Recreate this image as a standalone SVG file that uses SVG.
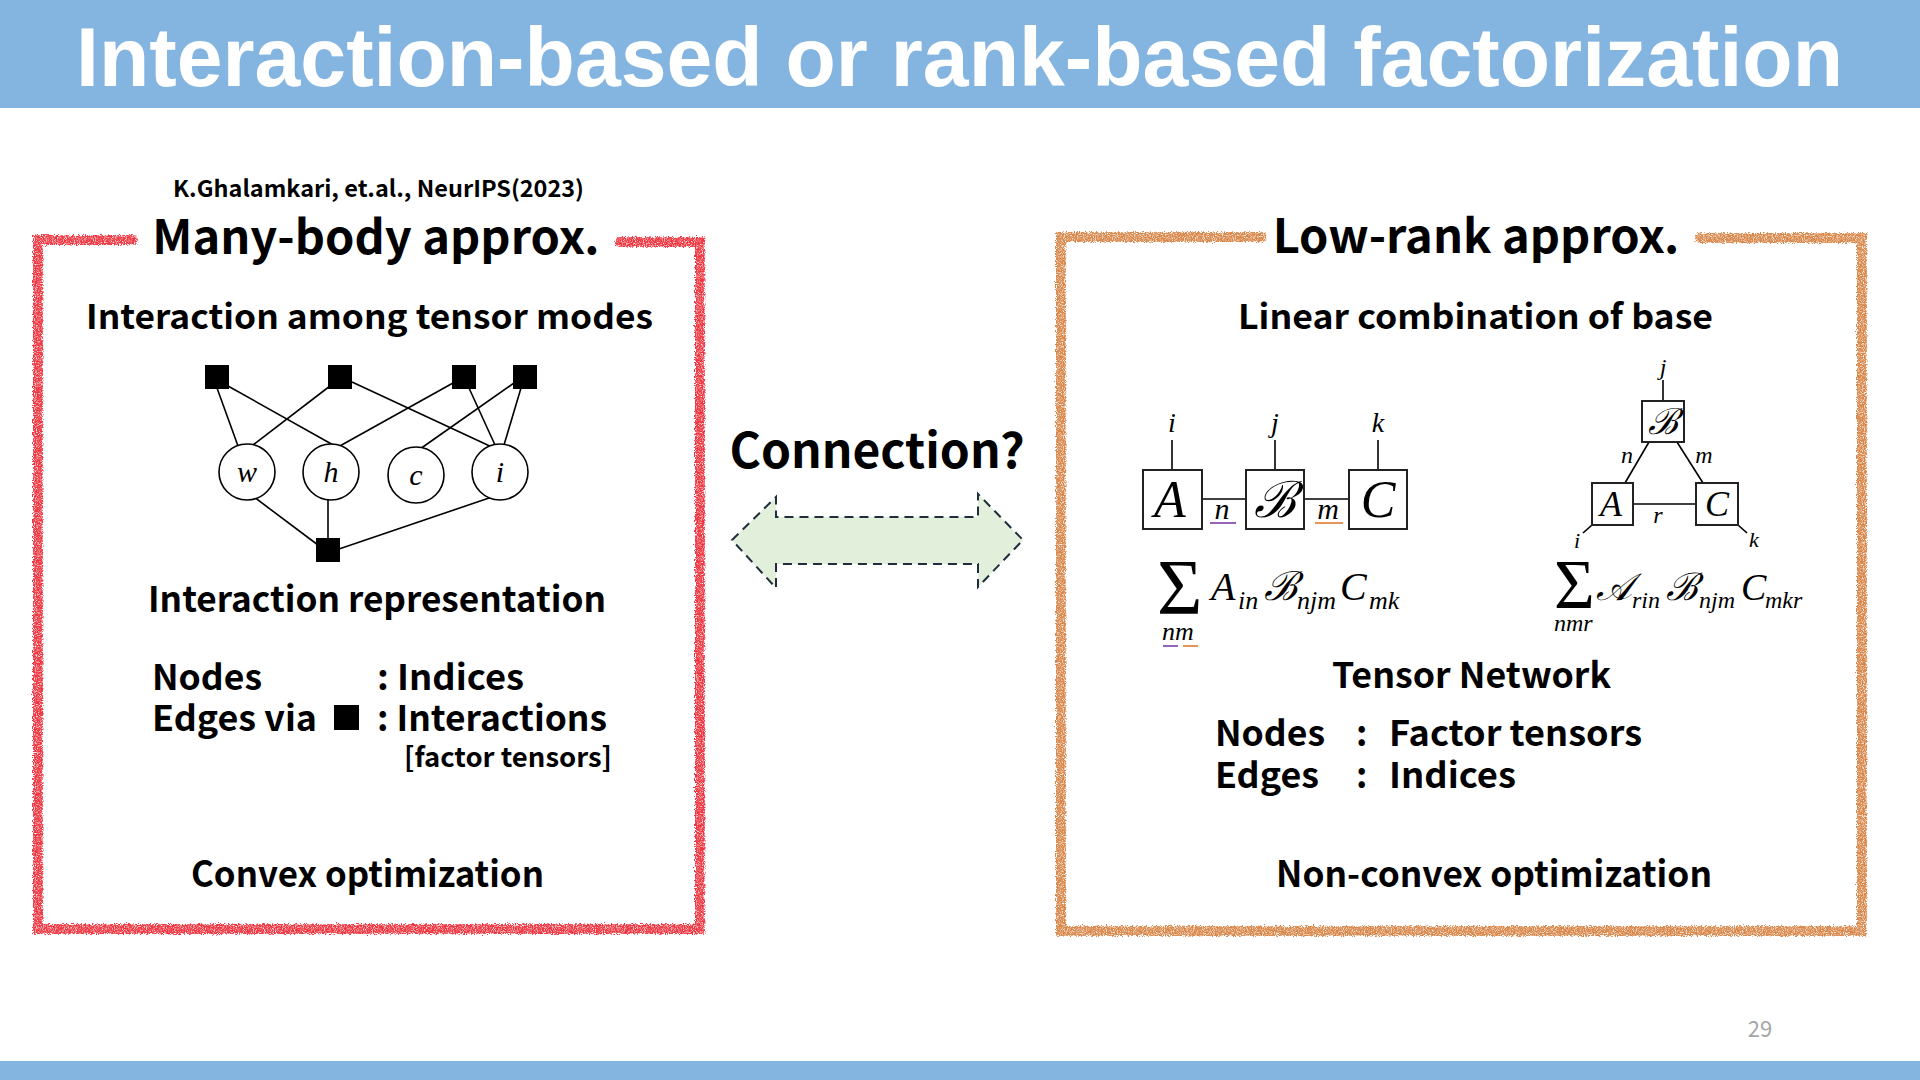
<svg xmlns="http://www.w3.org/2000/svg" width="1920" height="1080" viewBox="0 0 1920 1080">
<style>
.jp{font-family:"Noto Sans CJK JP","Noto Sans",sans-serif;fill:#000}
.h{font-weight:700}
.b{font-weight:700}
.m{font-family:"Liberation Serif","DejaVu Serif",serif;font-style:italic;fill:#000}
.ln{stroke:#000;stroke-width:1.6;fill:none}
.tb{fill:#fff;stroke:#222;stroke-width:2}
.fsq{fill:#000}
.circ{fill:#fff;stroke:#000;stroke-width:1.6}
</style>
<defs>
<filter id="crayon" filterUnits="userSpaceOnUse" x="0" y="0" width="1920" height="1080">
<feTurbulence type="fractalNoise" baseFrequency="0.9" numOctaves="2" seed="4" result="noise"/>
<feDisplacementMap in="SourceGraphic" in2="noise" scale="5" xChannelSelector="R" yChannelSelector="G" result="disp"/>
<feColorMatrix in="noise" type="matrix" values="0 0 0 0 0 0 0 0 0 0 0 0 0 0 0 2.6 0 0 0 -0.45" result="mask"/>
<feComposite in="disp" in2="mask" operator="in"/>
</filter>
</defs>
<rect width="1920" height="1080" fill="#fff"/>
<g id="header">
<rect x="0" y="0" width="1920" height="108" fill="#84B4E0"/>
<text x="76" y="86" font-family="Liberation Sans, Arial, sans-serif" font-weight="700" font-size="84" fill="#fff" textLength="1767" lengthAdjust="spacingAndGlyphs">Interaction-based or rank-based factorization</text>
</g>
<rect id="footer" x="0" y="1061" width="1920" height="19" fill="#84B4E0"/>
<text id="page" x="1760" y="1037" text-anchor="middle" font-family="Noto Sans CJK JP, sans-serif" font-size="22" fill="#a6a6a6">29</text>

<g id="frames" filter="url(#crayon)" fill="none" stroke-linecap="round">
<path d="M133 240 L38 240 L38 929 L700 929 L700 242 L620 242" stroke="#EE3440" stroke-width="10"/>
<path d="M1262 237 L1061 237 L1061 931 L1862 931 L1862 238 L1700 238" stroke="#D98648" stroke-width="10"/>
</g>

<g id="left-panel">
<text x="173" y="197" class="jp b" font-size="23" textLength="411" lengthAdjust="spacingAndGlyphs">K.Ghalamkari, et.al., NeurIPS(2023)</text>
<text x="376" y="254" text-anchor="middle" class="jp h" font-size="47">Many-body approx.</text>
<text x="86" y="329" class="jp b" font-size="34" textLength="567" lengthAdjust="spacingAndGlyphs">Interaction among tensor modes</text>
<text x="148" y="612" class="jp b" font-size="35" textLength="458" lengthAdjust="spacingAndGlyphs">Interaction representation</text>
<text x="152" y="690" class="jp b" font-size="35" textLength="110" lengthAdjust="spacingAndGlyphs">Nodes</text>
<text x="377" y="690" class="jp b" font-size="35" textLength="147" lengthAdjust="spacingAndGlyphs">: Indices</text>
<text x="152" y="731" class="jp b" font-size="35" textLength="165" lengthAdjust="spacingAndGlyphs">Edges via</text>
<rect x="334" y="705" width="25" height="25" fill="#000"/>
<text x="377" y="731" class="jp b" font-size="35" textLength="230" lengthAdjust="spacingAndGlyphs">: Interactions</text>
<text x="404" y="767" class="jp b" font-size="27" textLength="208" lengthAdjust="spacingAndGlyphs">[factor tensors]</text>
<text x="191" y="887" class="jp b" font-size="36" textLength="353" lengthAdjust="spacingAndGlyphs">Convex optimization</text>
</g>

<g id="connectors-left">
<line class="ln" x1="217" y1="388" x2="238" y2="446"/>
<line class="ln" x1="228" y1="386" x2="335" y2="446"/>
<line class="ln" x1="330" y1="386" x2="253" y2="445"/>
<line class="ln" x1="352" y1="382" x2="494" y2="448"/>
<line class="ln" x1="453" y1="383" x2="338" y2="447"/>
<line class="ln" x1="469" y1="388" x2="495" y2="445"/>
<line class="ln" x1="514" y1="383" x2="420" y2="449"/>
<line class="ln" x1="521" y1="388" x2="504" y2="445"/>
<line class="ln" x1="254" y1="497" x2="318" y2="545"/>
<line class="ln" x1="328" y1="500" x2="328" y2="540"/>
<line class="ln" x1="492" y1="497" x2="339" y2="549"/>
</g>
<g id="factor-squares">
<rect class="fsq" x="205" y="365" width="24" height="24"/>
<rect class="fsq" x="328" y="365" width="24" height="24"/>
<rect class="fsq" x="452" y="365" width="24" height="24"/>
<rect class="fsq" x="513" y="365" width="24" height="24"/>
<rect class="fsq" x="316" y="538" width="24" height="24"/>
</g>
<g id="node-w"><circle class="circ" cx="247" cy="472" r="28"/><text x="247" y="482" text-anchor="middle" class="m" font-size="30">w</text></g>
<g id="node-h"><circle class="circ" cx="331" cy="472" r="28"/><text x="331" y="482" text-anchor="middle" class="m" font-size="30">h</text></g>
<g id="node-c"><circle class="circ" cx="416" cy="475" r="28"/><text x="416" y="485" text-anchor="middle" class="m" font-size="30">c</text></g>
<g id="node-i"><circle class="circ" cx="500" cy="472" r="28"/><text x="500" y="482" text-anchor="middle" class="m" font-size="30">i</text></g>

<g id="connection">
<text x="877" y="468" text-anchor="middle" class="jp h" font-size="48">Connection?</text>
<path d="M732 540 L776 497 L776 517 L978 517 L978 494 L1023 540 L978 587 L978 564 L776 564 L776 588 Z" fill="#E2EFDA" stroke="#1F2D3D" stroke-width="2" stroke-dasharray="9 6"/>
</g>

<g id="right-panel">
<text x="1476" y="253" text-anchor="middle" class="jp h" font-size="47">Low-rank approx.</text>
<text x="1238" y="329" class="jp b" font-size="34" textLength="475" lengthAdjust="spacingAndGlyphs">Linear combination of base</text>
<text x="1332" y="688" class="jp b" font-size="35" textLength="279" lengthAdjust="spacingAndGlyphs">Tensor Network</text>
<text x="1215" y="746" class="jp b" font-size="35" textLength="110" lengthAdjust="spacingAndGlyphs">Nodes</text>
<text x="1356" y="746" class="jp b" font-size="35">:</text>
<text x="1389" y="746" class="jp b" font-size="35" textLength="253" lengthAdjust="spacingAndGlyphs">Factor tensors</text>
<text x="1215" y="788" class="jp b" font-size="35" textLength="104" lengthAdjust="spacingAndGlyphs">Edges</text>
<text x="1356" y="788" class="jp b" font-size="35">:</text>
<text x="1389" y="788" class="jp b" font-size="35" textLength="127" lengthAdjust="spacingAndGlyphs">Indices</text>
<text x="1276" y="887" class="jp b" font-size="36" textLength="436" lengthAdjust="spacingAndGlyphs">Non-convex optimization</text>
</g>

<g id="tn-chain-connectors">
<line class="ln" x1="1172" y1="440" x2="1172" y2="469"/>
<line class="ln" x1="1275" y1="440" x2="1275" y2="469"/>
<line class="ln" x1="1378" y1="440" x2="1378" y2="469"/>
<line class="ln" x1="1202" y1="499" x2="1246" y2="499"/>
<line class="ln" x1="1304" y1="499" x2="1349" y2="499"/>
</g>
<g id="tn-chain-A"><rect class="tb" x="1143" y="470" width="59" height="59"/><text x="1170" y="517" text-anchor="middle" class="m" font-size="52">A</text></g>
<g id="tn-chain-B"><rect class="tb" x="1246" y="470" width="58" height="59"/><text x="1275" y="517" text-anchor="middle" class="m" font-size="50">ℬ</text></g>
<g id="tn-chain-C"><rect class="tb" x="1349" y="470" width="58" height="59"/><text x="1378" y="517" text-anchor="middle" class="m" font-size="52">C</text></g>
<g id="tn-chain-labels">
<text x="1172" y="432" text-anchor="middle" class="m" font-size="28">i</text>
<text x="1275" y="432" text-anchor="middle" class="m" font-size="28">j</text>
<text x="1378" y="432" text-anchor="middle" class="m" font-size="28">k</text>
<text x="1222" y="519" text-anchor="middle" class="m" font-size="30">n</text>
<text x="1328" y="519" text-anchor="middle" class="m" font-size="30">m</text>
<line x1="1210" y1="523" x2="1236" y2="523" stroke="#7030A0" stroke-width="1.5"/>
<line x1="1315" y1="523" x2="1343" y2="523" stroke="#E07020" stroke-width="1.5"/>
</g>
<g id="formula-chain">
<text x="1157" y="613" class="m" font-size="78" style="font-style:normal">Σ</text>
<text x="1162" y="640" class="m" font-size="26">nm</text>
<line x1="1163" y1="646" x2="1178" y2="646" stroke="#7030A0" stroke-width="1.5"/>
<line x1="1183" y1="646" x2="1198" y2="646" stroke="#E07020" stroke-width="1.5"/>
<text x="1211" y="600" class="m" font-size="40">A</text>
<text x="1238" y="609" class="m" font-size="26">in</text>
<text x="1264" y="600" class="m" font-size="40">ℬ</text>
<text x="1297" y="609" class="m" font-size="26">njm</text>
<text x="1340" y="600" class="m" font-size="40">C</text>
<text x="1369" y="609" class="m" font-size="26">mk</text>
</g>

<g id="tn-tri-connectors">
<line class="ln" x1="1663" y1="380" x2="1663" y2="401"/>
<line class="ln" x1="1649" y1="442" x2="1625" y2="483"/>
<line class="ln" x1="1677" y1="442" x2="1703" y2="483"/>
<line class="ln" x1="1633" y1="504" x2="1696" y2="504"/>
<line class="ln" x1="1592" y1="525" x2="1583" y2="533"/>
<line class="ln" x1="1738" y1="525" x2="1747" y2="533"/>
</g>
<g id="tn-tri-B"><rect class="tb" x="1642" y="401" width="42" height="41"/><text x="1663" y="434" text-anchor="middle" class="m" font-size="36">ℬ</text></g>
<g id="tn-tri-A"><rect class="tb" x="1592" y="483" width="41" height="42"/><text x="1611" y="516" text-anchor="middle" class="m" font-size="36">A</text></g>
<g id="tn-tri-C"><rect class="tb" x="1696" y="483" width="42" height="42"/><text x="1717" y="516" text-anchor="middle" class="m" font-size="36">C</text></g>
<g id="tn-tri-labels">
<text x="1663" y="375" text-anchor="middle" class="m" font-size="24">j</text>
<text x="1627" y="463" text-anchor="middle" class="m" font-size="24">n</text>
<text x="1704" y="463" text-anchor="middle" class="m" font-size="24">m</text>
<text x="1658" y="523" text-anchor="middle" class="m" font-size="24">r</text>
<text x="1577" y="548" text-anchor="middle" class="m" font-size="22">i</text>
<text x="1754" y="547" text-anchor="middle" class="m" font-size="22">k</text>
</g>
<g id="formula-tri">
<text x="1554" y="608" class="m" font-size="70" style="font-style:normal">Σ</text>
<text x="1554" y="631" class="m" font-size="24">nmr</text>
<text x="1596" y="600" class="m" font-size="38">𝒜</text>
<text x="1632" y="608" class="m" font-size="24">rin</text>
<text x="1666" y="600" class="m" font-size="38">ℬ</text>
<text x="1699" y="608" class="m" font-size="24">njm</text>
<text x="1741" y="600" class="m" font-size="38">C</text>
<text x="1765" y="608" class="m" font-size="24">mkr</text>
</g>
</svg>
